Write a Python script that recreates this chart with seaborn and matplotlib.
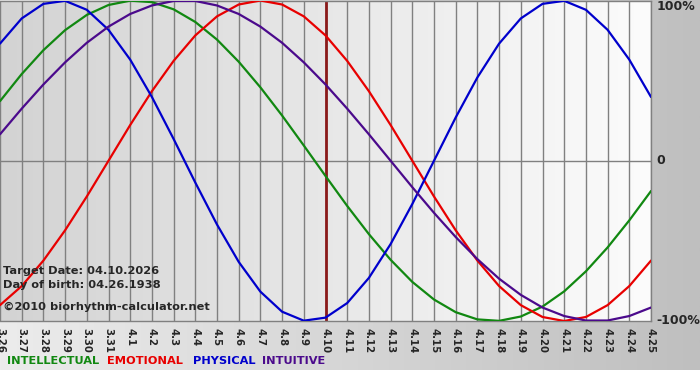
import numpy as np
import pandas as pd
import matplotlib
matplotlib.use('Agg')
import matplotlib.pyplot as plt
from matplotlib.colors import LinearSegmentedColormap
import seaborn as sns

# ============================================================
# DATA (daily values, -1..1)
# ============================================================
days = ['3.26', '3.27', '3.28', '3.29', '3.30', '3.31'] + [f'4.{d}' for d in range(1, 26)]

intellectual = [0.372, 0.541, 0.690, 0.815, 0.910, 0.972, 0.999, 0.990, 0.945, 0.866,
                0.756, 0.618, 0.458, 0.282, 0.095, -0.095, -0.282, -0.458, -0.618, -0.756,
                -0.866, -0.945, -0.990, -0.999, -0.972, -0.910, -0.815, -0.690, -0.541, -0.372,
                -0.189]
emotional = [-0.901, -0.782, -0.623, -0.434, -0.223, 0.0, 0.223, 0.434, 0.623, 0.782,
             0.901, 0.975, 1.0, 0.975, 0.901, 0.782, 0.623, 0.434, 0.223, 0.0,
             -0.223, -0.434, -0.623, -0.782, -0.901, -0.975, -1.0, -0.975, -0.901, -0.782,
             -0.623]
physical = [0.731, 0.888, 0.979, 0.998, 0.942, 0.817, 0.631, 0.398, 0.136, -0.136,
            -0.398, -0.631, -0.817, -0.942, -0.998, -0.979, -0.888, -0.731, -0.520, -0.270,
            0.0, 0.270, 0.520, 0.731, 0.888, 0.979, 0.998, 0.942, 0.817, 0.631,
            0.398]
intuitive = [0.165, 0.325, 0.476, 0.614, 0.736, 0.837, 0.916, 0.969, 0.997, 0.997,
             0.969, 0.916, 0.837, 0.736, 0.614, 0.476, 0.325, 0.165, 0.0, -0.165,
             -0.325, -0.476, -0.614, -0.736, -0.837, -0.916, -0.969, -0.997, -0.997, -0.969,
             -0.916]

target_day = '4.10'
target_date = '04.10.2026'
birth_date = '04.26.1938'

cycles = ['INTELLECTUAL', 'EMOTIONAL', 'PHYSICAL', 'INTUITIVE']
colors = {'INTELLECTUAL': '#118811', 'EMOTIONAL': '#e80000',
          'PHYSICAL': '#0000cc', 'INTUITIVE': '#4b0a8c'}

df = pd.DataFrame({
    'day': list(range(len(days))) * 4,
    'value': intellectual + emotional + physical + intuitive,
    'cycle': np.repeat(cycles, len(days)),
})

# ============================================================
# FIGURE
# ============================================================
sns.set_style('white')
plt.rcParams['font.family'] = ['DejaVu Sans']

fig = plt.figure(figsize=(7, 3.8), dpi=100)
fig.patch.set_facecolor('white')

# background gradient behind everything (bottom strip + right margin)
bg = fig.add_axes([0, 10 / 380, 1, 370 / 380], zorder=-1)
bg_cmap = LinearSegmentedColormap.from_list('bg', ['#ececec', '#bfbfbf'])
bg.imshow(np.linspace(0, 1, 256)[None, :], cmap=bg_cmap, aspect='auto',
          extent=[0, 1, 0, 1])
bg.axis('off')

ax = fig.add_axes([0, 59 / 380, 651 / 700, 320.5 / 380])
n = len(days)
plot_cmap = LinearSegmentedColormap.from_list('plot', ['#d3d3d3', '#fcfcfc'])
ax.imshow(np.linspace(0, 1, 256)[None, :], cmap=plot_cmap, aspect='auto',
          extent=[0, n - 1, -1, 1], zorder=0)

# day gridlines and zero line
for i in range(n):
    ax.axvline(i, color='#808080', lw=1, zorder=1)
ax.axhline(0, color='#808080', lw=1, zorder=1)

# target date marker
ax.axvline(days.index(target_day), color='#8b1a1a', lw=2, zorder=2)

sns.lineplot(data=df, x='day', y='value', hue='cycle', palette=colors,
             hue_order=cycles, linewidth=1.6, legend=False, ax=ax, zorder=3)

ax.set_xlim(0, n - 1)
ax.set_ylim(-1, 1)
ax.set_xlabel('')
ax.set_ylabel('')
ax.set_xticks(range(n))
ax.set_xticklabels(days, rotation=270, fontsize=7.3, fontweight='bold')
ax.tick_params(axis='x', direction='out', length=4, width=1, color='#808080', pad=1)
ax.set_yticks([])
for sp in ax.spines.values():
    sp.set_color('#808080')
    sp.set_linewidth(1)
ax.spines['left'].set_visible(False)

# right-hand percentage labels
for yv, txt in [(1, '100%'), (0, '0'), (-1, '-100%')]:
    ax.text(1.009, (yv + 1) / 2 - (0.02 if yv == 1 else 0), txt, transform=ax.transAxes,
            ha='left', va='center', fontsize=9, fontweight='bold')

# info text
for y_px, txt in [(271, f'Target Date: {target_date}'),
                  (285, f'Day of birth: {birth_date}'),
                  (307, '\u00a92010 biorhythm-calculator.net')]:
    ax.text(3 / 651, (321 - y_px) / 320.5, txt, transform=ax.transAxes,
            fontsize=8.2, fontweight='bold', va='center')

# colored legend words
for x_px, name in zip([7, 107, 193, 262], cycles):
    fig.text(x_px / 700, 1 - 361 / 380, name, color=colors[name], fontsize=8.2,
             fontweight='bold', va='center', ha='left')

fig.savefig('out.png', dpi=100)
